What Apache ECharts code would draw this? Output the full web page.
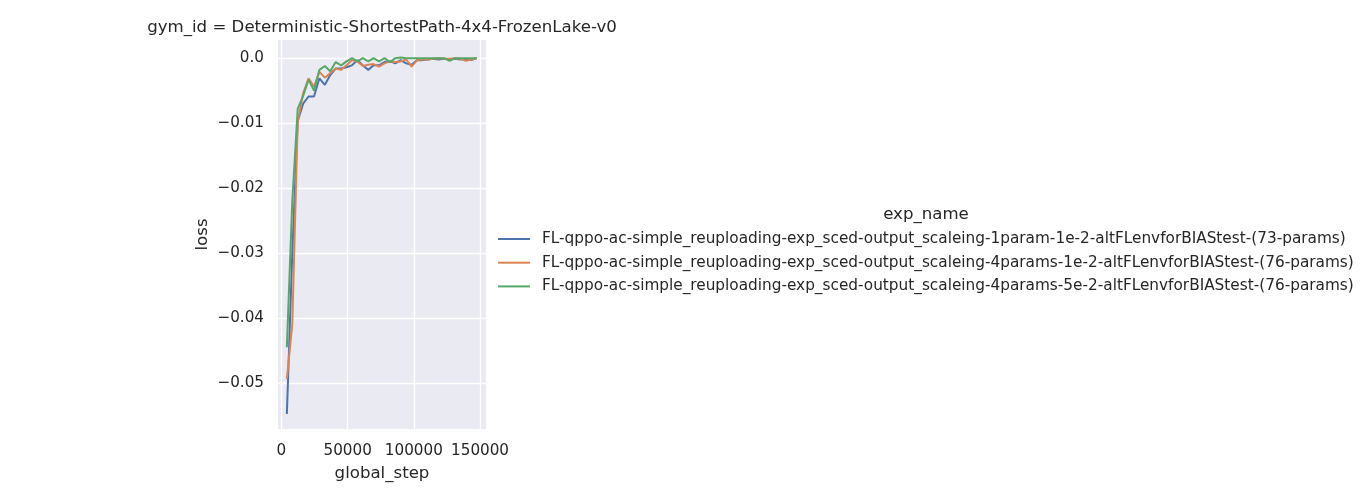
<!DOCTYPE html>
<html>
<head>
<meta charset="utf-8">
<script src="https://cdn.jsdelivr.net/npm/echarts@6/dist/echarts.min.js"></script>
<style>
html,body{margin:0;padding:0;background:#fff;}
#chart{width:1367px;height:500px;}
</style>
</head>
<body>
<div id="chart"></div>
<script>
const steps = [4096, 8192, 12288, 16384, 20480, 24576, 28672, 32768, 36864, 40960, 45056, 49152,
  53248, 57344, 61440, 65536, 69632, 73728, 77824, 81920, 86016, 90112, 94208, 98304,
  102400, 106496, 110592, 114688, 118784, 122880, 126976, 131072, 135168, 139264, 143360, 147456];

const seriesNames = [
  'FL-qppo-ac-simple_reuploading-exp_sced-output_scaleing-1param-1e-2-altFLenvforBIAStest-(73-params)',
  'FL-qppo-ac-simple_reuploading-exp_sced-output_scaleing-4params-1e-2-altFLenvforBIAStest-(76-params)',
  'FL-qppo-ac-simple_reuploading-exp_sced-output_scaleing-4params-5e-2-altFLenvforBIAStest-(76-params)'
];

const loss1param = [-0.0548, -0.0300, -0.0097, -0.0070, -0.0059, -0.0059, -0.0031, -0.0041, -0.0026, -0.0016, -0.0016, -0.0014,
  -0.0011, -0.0003, -0.0011, -0.0018, -0.0011, -0.0011, -0.0006, -0.0005, -0.0008, -0.0003, -0.0008, -0.0010,
  -0.0003, -0.0003, -0.0002, -0.0001, -0.0002, -0.0001, -0.0002, -0.0001, -0.0002, -0.0001, -0.0003, 0.0000];

const loss4params1e2 = [-0.0494, -0.0410, -0.0098, -0.0054, -0.0031, -0.0044, -0.0021, -0.0030, -0.0023, -0.0016, -0.0018, -0.0011,
  -0.0003, -0.0005, -0.0012, -0.0010, -0.0009, -0.0013, -0.0008, -0.0005, -0.0006, -0.0005, -0.0002, -0.0013,
  -0.0003, -0.0002, -0.0002, -0.0001, 0.0000, -0.0001, -0.0001, 0.0000, -0.0001, -0.0004, -0.0002, 0.0000];

const loss4params5e2 = [-0.0445, -0.0220, -0.0078, -0.0058, -0.0033, -0.0050, -0.0018, -0.0012, -0.0020, -0.0006, -0.0011, -0.0005,
  0.0000, -0.0005, 0.0000, -0.0005, 0.0000, -0.0005, 0.0000, -0.0006, 0.0000, 0.0001, 0.0000, 0.0000,
  0.0000, 0.0000, 0.0000, 0.0000, 0.0000, 0.0000, -0.0004, 0.0000, 0.0000, 0.0000, 0.0000, 0.0000];

const xTicks = [0, 50000, 100000, 150000];
const yTicks = [0, -0.01, -0.02, -0.03, -0.04, -0.05];

const colors = ['#4C72B0', '#DD8452', '#55A868'];
const lossSets = [loss1param, loss4params1e2, loss4params5e2];
const FONT = 'DejaVu Sans';
const TXT = '#262626';

const dataSeries = seriesNames.map((name, i) => ({
  name: name,
  type: 'line',
  data: steps.map((s, j) => [s, lossSets[i][j]]),
  showSymbol: false,
  symbol: 'none',
  z: 3,
  lineStyle: { color: colors[i], width: 2 },
  itemStyle: { color: colors[i] },
  animation: false
}));

const gridSeries = {
  type: 'line',
  data: [],
  silent: true,
  z: 1,
  markLine: {
    silent: true,
    z: 1,
    symbol: ['none', 'none'],
    label: { show: false },
    animation: false,
    lineStyle: { color: '#ffffff', width: 1.3, type: 'solid' },
    emphasis: { disabled: true },
    data: xTicks.map(v => ({ xAxis: v })).concat(yTicks.map(v => ({ yAxis: v })))
  }
};

const chart = echarts.init(document.getElementById('chart'), null, { renderer: 'canvas' });
chart.setOption({
  animation: false,
  backgroundColor: '#ffffff',
  textStyle: { fontFamily: FONT, color: TXT },
  title: [
    {
      text: 'gym_id = Deterministic-ShortestPath-4x4-FrozenLake-v0',
      left: 382, top: 19, textAlign: 'center', padding: 0,
      textStyle: { fontFamily: FONT, fontSize: 16.6, fontWeight: 'normal', color: TXT }
    },
    {
      text: 'exp_name',
      left: 926, top: 206, textAlign: 'center', padding: 0,
      textStyle: { fontFamily: FONT, fontSize: 16.6, fontWeight: 'normal', color: TXT }
    }
  ],
  legend: {
    orient: 'vertical',
    left: 498, top: 230, padding: 0,
    itemWidth: 32, itemHeight: 2,
    itemGap: 5.7,
    icon: 'rect',
    data: seriesNames,
    selectedMode: false,
    textStyle: { fontFamily: FONT, fontSize: 15.3, color: TXT, lineHeight: 18, padding: [0, 0, 0, 7] }
  },
  grid: {
    left: 278, top: 40, width: 208, height: 389,
    show: true, backgroundColor: '#EAEAF2', borderWidth: 0
  },
  xAxis: {
    type: 'value',
    min: -2600, max: 154500,
    name: 'global_step', nameLocation: 'middle', nameGap: 36,
    nameTextStyle: { fontFamily: FONT, fontSize: 16.6, color: TXT },
    axisLine: { show: false }, axisTick: { show: false },
    splitLine: { show: false },
    axisLabel: {
      customValues: xTicks, margin: 15,
      fontFamily: FONT, fontSize: 15.2, color: TXT,
      formatter: v => String(Math.round(v))
    }
  },
  yAxis: {
    type: 'value',
    min: -0.0571, max: 0.0028,
    name: 'loss', nameLocation: 'middle', nameGap: 67,
    nameTextStyle: { fontFamily: FONT, fontSize: 16.6, color: TXT },
    axisLine: { show: false }, axisTick: { show: false },
    splitLine: { show: false },
    axisLabel: {
      customValues: yTicks, margin: 14,
      fontFamily: FONT, fontSize: 15.2, color: TXT,
      formatter: v => (Math.abs(v) < 1e-9 ? '0.0' : '\u2212' + Math.abs(v).toFixed(2))
    }
  },
  series: [gridSeries].concat(dataSeries)
});
</script>
</body>
</html>
